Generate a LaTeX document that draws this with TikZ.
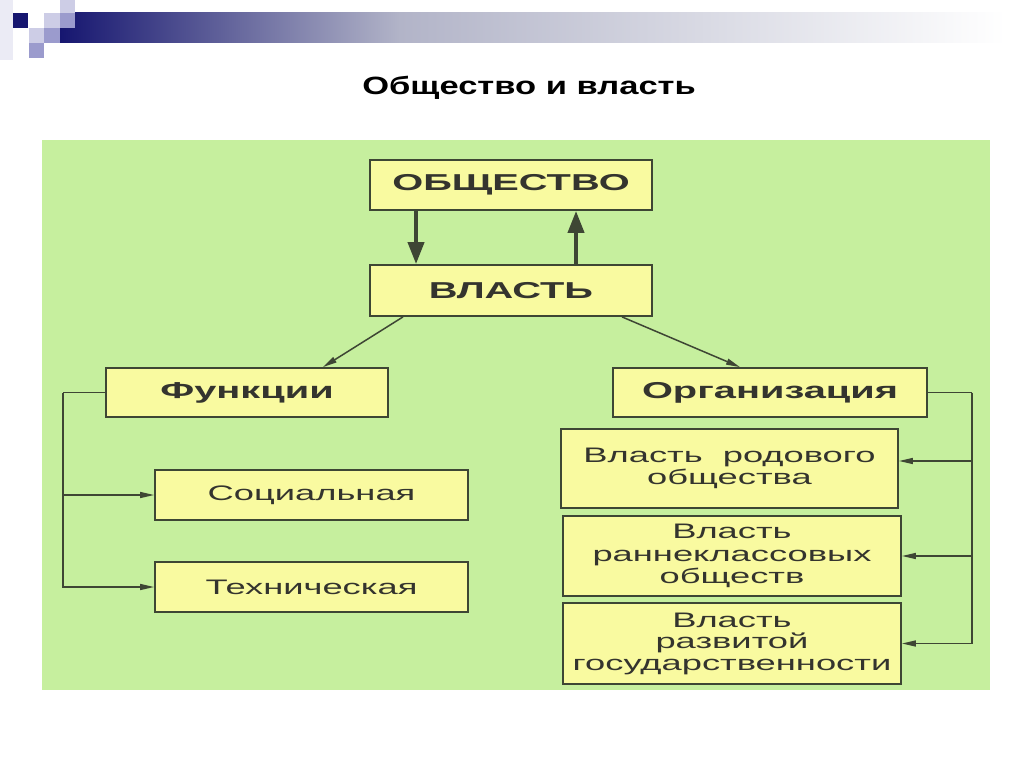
\documentclass[tikz,border=0pt]{standalone}
\usepackage{fontspec}
\setmainfont{Liberation Sans}
\newfontfamily\wsf[FakeStretch=1.38]{Liberation Sans}
\newfontfamily\xsf[FakeStretch=1.73]{Liberation Sans}
\usetikzlibrary{arrows.meta}
\definecolor{bggreen}{RGB}{198,239,158}
\definecolor{boxyellow}{RGB}{249,250,160}
\definecolor{boxline}{RGB}{62,70,52}
\definecolor{txt}{RGB}{52,52,46}
\definecolor{navy}{RGB}{22,22,112}
\definecolor{midbar}{RGB}{178,180,200}
\definecolor{lav}{RGB}{205,205,230}
\definecolor{medlav}{RGB}{155,155,205}
\tikzset{
  box/.style={draw=boxline, line width=1.8pt, fill=boxyellow, text=txt, inner sep=0pt, align=center},
  boldtext/.style={font=\xsf\bfseries\fontsize{23}{27}\selectfont},
  regtext/.style={font=\xsf\fontsize{21}{25}\selectfont},
  bigarrow/.style={draw=boxline, line width=4pt, -{Triangle[length=22pt,width=16pt]}},
  link/.style={draw=boxline, line width=1.5pt},
  linkarrow/.style={link, -{Triangle[length=14pt,width=6pt]}},
}
\begin{document}
\begin{tikzpicture}[x=1pt,y=-1pt]
\useasboundingbox (0,0) rectangle (1024,767);
\fill[white] (0,0) rectangle (1024,767);
% header decoration
\fill[lav!40] (0,0) rectangle (13,60);
\shade[left color=navy, right color=midbar] (60,13) rectangle (400,43);
\shade[left color=midbar, right color=white] (400,13) rectangle (1005,43);
\fill[navy] (13,13) rectangle (28,28);
\fill[lav] (44,13) rectangle (60,28);
\fill[lav] (60,0) rectangle (75,13);
\fill[medlav] (60,13) rectangle (75,28);
\fill[lav] (29,28) rectangle (44,43);
\fill[medlav] (44,28) rectangle (60,43);
\fill[medlav] (29,43) rectangle (44,58);
% title
\node[font=\wsf\bfseries\fontsize{25}{30}\selectfont, text=black] (title) at (529,88) {Общество и власть};
% green panel
\fill[bggreen] (42,140) rectangle (990,690);
% boxes
\node[box, boldtext, minimum width=282pt, minimum height=50pt] (obsh) at (511,185) {ОБЩЕСТВО};
\node[box, boldtext, minimum width=282pt, minimum height=51pt] (vlast) at (511,290.5) {ВЛАСТЬ};
\node[box, boldtext, minimum width=282pt, minimum height=49pt] (func) at (247,392.5) {Функции};
\node[box, boldtext, minimum width=314pt, minimum height=49pt] (org) at (770,392.5) {Организация};
\node[box, regtext, minimum width=313pt, minimum height=50pt] (soc) at (311.5,495) {Социальная};
\node[box, regtext, minimum width=313pt, minimum height=50pt] (tech) at (311.5,587) {Техническая};
\node[box, font=\xsf\fontsize{21}{21.5}\selectfont, minimum width=337pt, minimum height=79pt] (r1) at (729.5,468.5) {Власть\hspace{10pt} родового\\общества};
\node[box, font=\xsf\fontsize{21}{22.5}\selectfont, minimum width=338pt, minimum height=80pt] (r2) at (732,556) {Власть\\раннеклассовых\\обществ};
\node[box, font=\xsf\fontsize{21}{21.5}\selectfont, minimum width=338pt, minimum height=81pt] (r3) at (732,643.5) {Власть\\развитой\\государственности};
% connectors
\draw[bigarrow] (obsh.south -| 416,0) -- (vlast.north -| 416,0);
\draw[bigarrow] (vlast.north -| 576,0) -- (obsh.south -| 576,0);
\draw[linkarrow] (vlast.south -| 403,0) -- (func.north -| 323,0);
\draw[linkarrow] (vlast.south -| 622,0) -- (org.north -| 740,0);
\draw[link] (func.west) -- (63,392.5) coordinate (lc);
\draw[linkarrow] (lc) |- (tech.west);
\draw[linkarrow] (lc |- soc.west) -- (soc.west);
\draw[link] (org.east) -- (972,392.5) coordinate (rc);
\draw[linkarrow] (rc) |- (r3.east);
\draw[linkarrow] (rc |- 0,461) -- (r1.east |- 0,461);
\draw[linkarrow] (rc |- r2.east) -- (r2.east);
\end{tikzpicture}
\end{document}
